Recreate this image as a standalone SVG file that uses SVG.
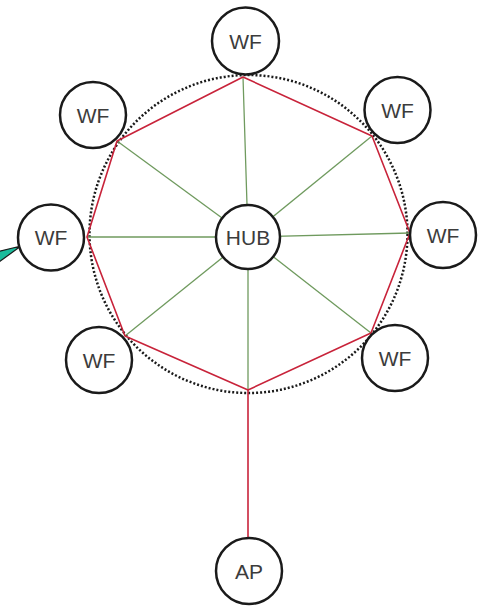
<svg xmlns="http://www.w3.org/2000/svg" width="481" height="607" viewBox="0 0 481 607">
  <style>
    .node circle { fill: #ffffff; stroke: #1a1a1a; stroke-width: 2.5; }
    .node text { font-family: "Liberation Sans", Arial, sans-serif; font-size: 21px; fill: #3c3c3c; text-anchor: middle; dominant-baseline: central; }
    .ring { fill: none; stroke: #1a1a1a; stroke-width: 2.5; stroke-dasharray: 2 2; }
    .spoke { stroke: #6f9a5e; stroke-width: 1.3; fill: none; }
    .rim { stroke: #c8233a; stroke-width: 1.6; fill: none; stroke-linejoin: round; }
    .pointer { fill: #1abc9c; stroke: #1a1a1a; stroke-width: 1.2; stroke-linejoin: round; }
  </style>

  <!-- dotted ring through the wind farm junctions -->
  <circle class="ring" cx="248.5" cy="234" r="159"/>

  <g id="connectors">
    <!-- hub spokes -->
    <line class="spoke" x1="248" y1="237" x2="243" y2="77"/>
    <line class="spoke" x1="248" y1="237" x2="372" y2="136"/>
    <line class="spoke" x1="248" y1="237" x2="410" y2="233"/>
    <line class="spoke" x1="248" y1="237" x2="371" y2="333"/>
    <line class="spoke" x1="248" y1="237" x2="248" y2="390"/>
    <line class="spoke" x1="248" y1="237" x2="125" y2="336"/>
    <line class="spoke" x1="248" y1="237" x2="87" y2="237"/>
    <line class="spoke" x1="248" y1="237" x2="117" y2="141"/>
    <!-- outer ring cable -->
    <polygon class="rim" points="243,77 372,136 410,233 371,333 248,390 125,336 87,237 117,141"/>
    <!-- feeder to AP -->
    <line class="rim" x1="248" y1="390" x2="248" y2="538"/>
    <!-- incoming pointer at left edge -->
    <polygon class="pointer" points="21,246 -4,252 -1,262"/>
  </g>

  <g id="hub" class="node"><circle cx="248" cy="237" r="32"/><text x="248" y="237">HUB</text></g>
  <g id="wf-n" class="node"><circle cx="245.5" cy="41" r="33.5"/><text x="245.5" y="41">WF</text></g>
  <g id="wf-ne" class="node"><circle cx="397.5" cy="110" r="33"/><text x="397.5" y="110">WF</text></g>
  <g id="wf-e" class="node"><circle cx="443" cy="235" r="33"/><text x="443" y="235">WF</text></g>
  <g id="wf-se" class="node"><circle cx="395" cy="358" r="33"/><text x="395" y="358">WF</text></g>
  <g id="wf-sw" class="node"><circle cx="99" cy="360" r="33"/><text x="99" y="360">WF</text></g>
  <g id="wf-w" class="node"><circle cx="51" cy="237.5" r="33"/><text x="51" y="237.5">WF</text></g>
  <g id="wf-nw" class="node"><circle cx="93" cy="115" r="33"/><text x="93" y="115">WF</text></g>
  <g id="ap" class="node"><circle cx="249" cy="571" r="33"/><text x="249" y="571">AP</text></g>
</svg>
